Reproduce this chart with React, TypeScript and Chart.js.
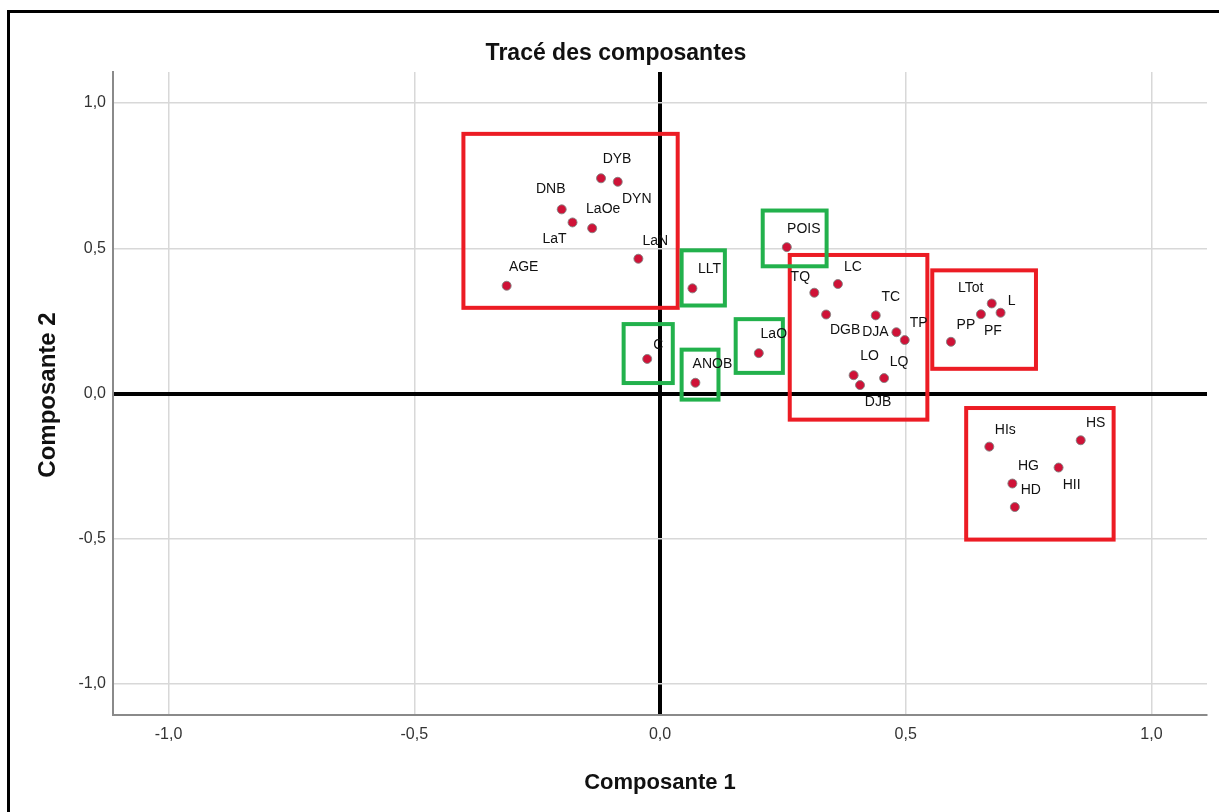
import { useEffect, useRef } from "react";
import { Chart, registerables } from "chart.js";

Chart.register(...registerables);

// Component loadings (component 1 on x, component 2 on y)
const variableNames = [
  "DYB", "DYN", "DNB", "LaT", "LaOe", "LaN", "AGE",
  "LLT", "C", "ANOB", "LaO", "POIS",
  "TQ", "LC", "DGB", "TC", "DJA", "TP", "LO", "DJB", "LQ",
  "LTot", "L", "PF", "PP",
  "HIs", "HS", "HII", "HG", "HD",
];
const component1 = [
  -0.120, -0.086, -0.200, -0.178, -0.138, -0.044, -0.312,
  0.066, -0.026, 0.072, 0.201, 0.258,
  0.314, 0.362, 0.338, 0.439, 0.481, 0.498, 0.394, 0.407, 0.456,
  0.675, 0.693, 0.653, 0.592,
  0.670, 0.856, 0.811, 0.717, 0.722,
];
const component2 = [
  0.741, 0.729, 0.634, 0.589, 0.569, 0.464, 0.371,
  0.362, 0.119, 0.037, 0.139, 0.504,
  0.347, 0.377, 0.272, 0.269, 0.211, 0.184, 0.063, 0.029, 0.053,
  0.310, 0.278, 0.273, 0.178,
  -0.183, -0.161, -0.255, -0.310, -0.391,
];

// Where each name sits relative to its marker (pixels, text centre)
const labelDx = [
  16, 19, -11, -18, 11, 17, 17,
  17, 11, 17, 15, 17,
  -14, 15, 19, 15, -21, 14, 16, 18, 15,
  -21, 11, 12, 15,
  16, 15, 13, 16, 16,
];
const labelDy = [
  -19, 17, -20, 17, -19, -18, -19,
  -19, -14, -19, -19, -18,
  -16, -17, 16, -18, 0, -17, -19, 17, -16,
  -15, -12, 17, -17,
  -17, -17, 18, -17, -17,
];

// Highlight groups, as [x from, x to, y top, y bottom] in loading units
const redGroups = [
  [-0.400, 0.036, 0.894, 0.295],
  [0.264, 0.544, 0.477, -0.090],
  [0.554, 0.765, 0.424, 0.085],
  [0.623, 0.923, -0.050, -0.503],
];
const greenGroups = [
  [0.044, 0.132, 0.493, 0.303],
  [0.209, 0.339, 0.630, 0.438],
  [-0.074, 0.026, 0.239, 0.036],
  [0.044, 0.119, 0.151, -0.021],
  [0.154, 0.250, 0.256, 0.071],
];

const axisMin = -1.113;
const axisMax = 1.113;
const axisMinY = -1.107;
const axisMaxY = 1.107;

const FONT = "'Liberation Sans', Arial, sans-serif";

const formatTick = (v: number | string) =>
  Number(v).toFixed(1).replace(".", ",");

const overlayPlugin = {
  id: "componentOverlay",
  afterDatasetsDraw(chart: any) {
    const { ctx, scales } = chart;
    const xs = scales.x;
    const ys = scales.y;

    // group frames
    const drawGroups = (groups: number[][], color: string) => {
      ctx.save();
      ctx.strokeStyle = color;
      ctx.lineWidth = 4;
      for (const g of groups) {
        const x1 = xs.getPixelForValue(g[0]);
        const x2 = xs.getPixelForValue(g[1]);
        const y1 = ys.getPixelForValue(g[2]);
        const y2 = ys.getPixelForValue(g[3]);
        ctx.strokeRect(x1, y1, x2 - x1, y2 - y1);
      }
      ctx.restore();
    };
    drawGroups(redGroups, "#ec1c24");
    drawGroups(greenGroups, "#22b14c");

    // variable names
    ctx.save();
    ctx.font = `14px ${FONT}`;
    ctx.fillStyle = "#111";
    ctx.textAlign = "center";
    ctx.textBaseline = "middle";
    variableNames.forEach((name, i) => {
      const px = xs.getPixelForValue(component1[i]);
      const py = ys.getPixelForValue(component2[i]);
      ctx.fillText(name, px + labelDx[i], py + labelDy[i]);
    });
    ctx.restore();
  },
  afterDraw(chart: any) {
    const { ctx } = chart;
    ctx.save();
    // frame around the figure
    ctx.fillStyle = "#000";
    ctx.fillRect(7, 10, chart.width, 3);
    ctx.fillRect(7, 10, 3, chart.height);

    ctx.fillStyle = "#111";
    ctx.textAlign = "center";
    ctx.textBaseline = "alphabetic";
    ctx.font = `bold 23px ${FONT}`;
    ctx.fillText("Tracé des composantes", 616, 60);

    ctx.font = `bold 22px ${FONT}`;
    ctx.fillText("Composante 1", 660, 789);

    ctx.translate(55, 395);
    ctx.rotate(-Math.PI / 2);
    ctx.font = `bold 24px ${FONT}`;
    ctx.fillText("Composante 2", 0, 0);
    ctx.restore();
  },
};

const isZero = (v: number) => Math.abs(v) < 1e-9;

export default function App() {
  const canvasRef = useRef<HTMLCanvasElement | null>(null);

  useEffect(() => {
    if (!canvasRef.current) return;
    const points = component1.map((x, i) => ({ x, y: component2[i] }));

    const gridStyle = {
      color: (c: any) => (isZero(c.tick?.value ?? 1) ? "#000" : "#d8d8d8"),
      lineWidth: (c: any) => (isZero(c.tick?.value ?? 1) ? 4 : 1.5),
      drawTicks: false,
    };

    const chart = new Chart(canvasRef.current, {
      type: "scatter",
      data: {
        datasets: [
          {
            data: points,
            backgroundColor: "#cf1237",
            borderColor: "rgba(130,130,130,0.9)",
            borderWidth: 1,
            pointRadius: 4.5,
          },
        ],
      },
      plugins: [overlayPlugin],
      options: {
        animation: false,
        responsive: false,
        devicePixelRatio: 1,
        layout: { padding: { left: 0, top: 72, right: 12, bottom: 0 } },
        plugins: {
          legend: { display: false },
          tooltip: { enabled: false },
          title: { display: false },
        },
        scales: {
          x: {
            type: "linear",
            min: axisMin,
            max: axisMax,
            grid: gridStyle,
            border: { display: true, color: "#8a8a8a", width: 2 },
            ticks: {
              stepSize: 0.5,
              includeBounds: false,
              autoSkip: false,
              maxRotation: 0,
              padding: 10,
              color: "#333",
              font: { family: FONT, size: 16 },
              callback: (v: any) => formatTick(v),
            },
            afterFit: (scale: any) => {
              scale.height = 97;
            },
          },
          y: {
            type: "linear",
            min: axisMinY,
            max: axisMaxY,
            grid: gridStyle,
            border: { display: true, color: "#8a8a8a", width: 2 },
            ticks: {
              stepSize: 0.5,
              includeBounds: false,
              autoSkip: false,
              padding: 7,
              color: "#333",
              font: { family: FONT, size: 16 },
              callback: (v: any) => formatTick(v),
            },
            afterFit: (scale: any) => {
              scale.width = 113;
            },
          },
        },
      },
    });

    return () => chart.destroy();
  }, []);

  return (
    <div
      style={{
        position: "fixed",
        left: 0,
        top: 0,
        width: 1219,
        height: 812,
        background: "#fff",
      }}
    >
      <canvas ref={canvasRef} width={1219} height={812} />
    </div>
  );
}
